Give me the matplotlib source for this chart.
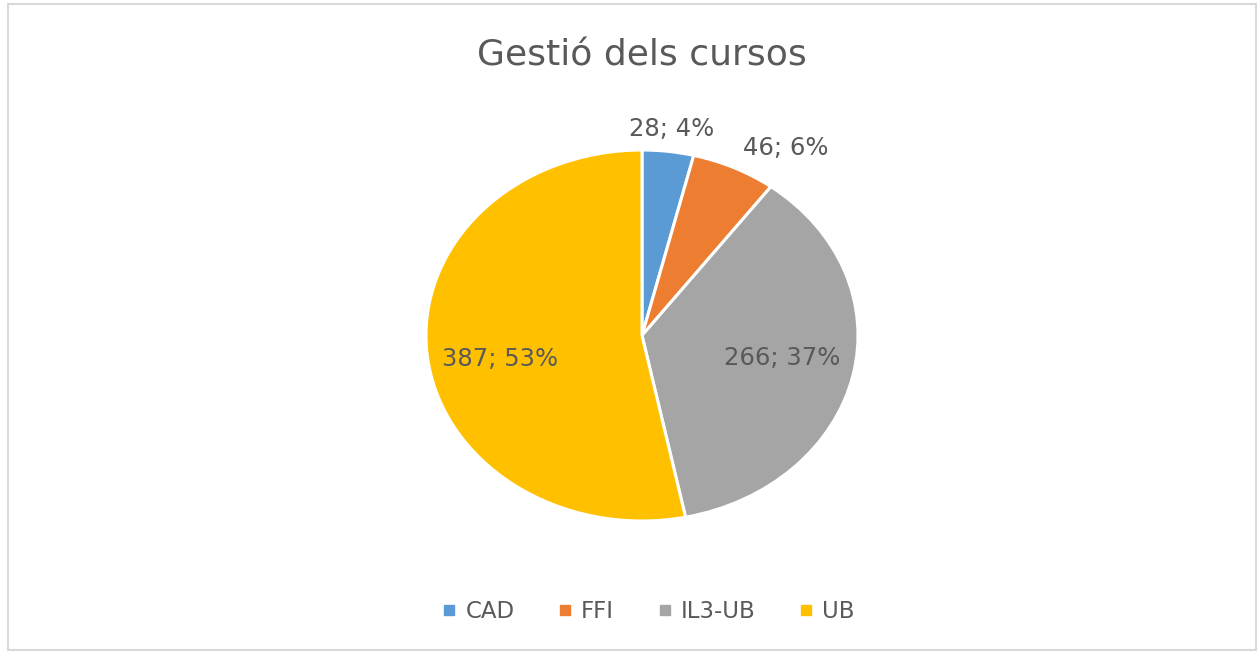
import numpy as np
import matplotlib.pyplot as plt
from matplotlib.patches import Rectangle
from matplotlib.lines import Line2D

plt.rcParams['font.family'] = ['DejaVu Sans']

# data
categories = ['CAD', 'FFI', 'IL3-UB', 'UB']
values = [28, 46, 266, 387]
percents = ['4%', '6%', '37%', '53%']
colors = ['#5B9BD5', '#ED7D31', '#A5A5A5', '#FFC000']

# label placement (radius, angle shift in degrees)
label_r = [1.12, 1.21, 0.66, 0.67]
label_shift = [0, -8, 2, 5]

text_color = '#595959'

fig = plt.figure(figsize=(12.58, 6.53), dpi=100)
fig.patches.append(Rectangle((8 / 1258, 3 / 653), 1248 / 1258, 646 / 653,
                             transform=fig.transFigure, fill=False,
                             edgecolor='#D9D9D9', linewidth=1.5))

ax = fig.add_axes([426 / 1258, 1 - 521 / 653, 432 / 1258, 371 / 653])
wedges, _ = ax.pie(values, colors=colors, startangle=90, counterclock=False,
                   wedgeprops=dict(edgecolor='white', linewidth=2.2))
ax.set_aspect('auto')
ax.set_xlim(-1, 1)
ax.set_ylim(-1, 1)

for w, v, p, r, s in zip(wedges, values, percents, label_r, label_shift):
    ang = np.deg2rad((w.theta1 + w.theta2) / 2 + s)
    ax.text(r * np.cos(ang), r * np.sin(ang), f'{v}; {p}', ha='center', va='center',
            fontsize=17.5, color=text_color, clip_on=False)

fig.text(642 / 1258, 1 - 55 / 653, 'Gestió dels cursos', ha='center', va='center',
         fontsize=26, color=text_color)

handles = [Line2D([], [], marker='s', linestyle='', markersize=6.5, color=c) for c in colors]
fig.legend(handles, categories, loc='center', bbox_to_anchor=(645 / 1258, 1 - 612 / 653),
           ncol=4, frameon=False, fontsize=16.5, handletextpad=0.1, columnspacing=1.6,
           handlelength=1.2, labelcolor=text_color)

fig.savefig('out.png', dpi=100)
